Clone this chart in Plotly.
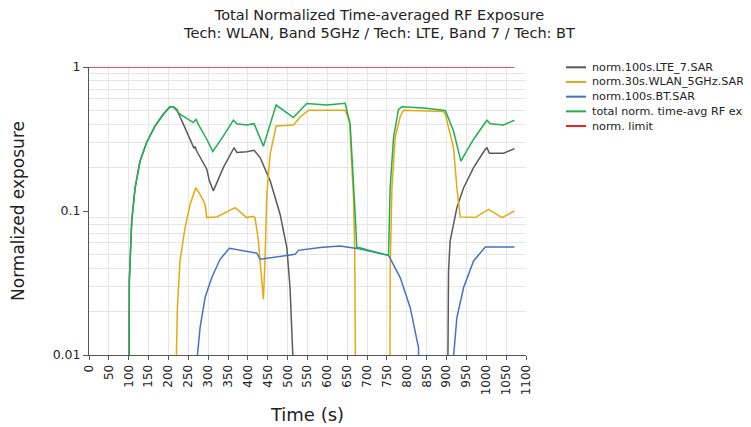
import plotly.graph_objects as go

# values (time in s, normalized exposure)
lte_t = [100, 101.5, 107.5, 116, 128.5, 145, 166, 187, 204, 212, 221, 237.6, 254.4, 264.5, 267, 271,
         296.5, 303, 313, 338, 365, 372, 397, 415.6, 430.7, 456, 481, 498, 506, 513, 514,
         None,
         901, 903.5, 905, 909, 926, 943, 968, 997.5, 1001.7, 1008, 1043.6, 1071]
lte_v = [0.001, 0.0327, 0.085, 0.145, 0.222, 0.299, 0.389, 0.47, 0.53, 0.53, 0.508, 0.40, 0.315, 0.272, 0.28, 0.261,
         0.195, 0.162, 0.138, 0.2, 0.275, 0.255, 0.258, 0.264, 0.235, 0.162, 0.095, 0.0557, 0.0294, 0.01, 0.001,
         None,
         0.001, 0.01, 0.038, 0.0619, 0.1056, 0.145, 0.2, 0.268, 0.275, 0.252, 0.252, 0.271]

wlan_t = [219, 220, 222.5, 229, 241.8, 254.4, 268.7, 279.6, 292.2, 296.5, 321.7, 367.8, 397, 414, 418,
          426.5, 435, 439, 443, 447.6, 456, 471, 514.6, 531.5, 552.5, 644.8, 655.7, 665.8, 669, 672.5,
          None,
          757, 758, 762.5, 770.8, 783.4, 791.7, 892, 897, 917.6, 926, 934.5, 972, 1005.8, 1039.5, 1071]
wlan_v = [0.001, 0.01, 0.0213, 0.045, 0.0767, 0.111, 0.145, 0.1306, 0.111, 0.09, 0.091, 0.1056, 0.09, 0.092, 0.09,
          0.0619, 0.0327, 0.0244, 0.045, 0.1306, 0.248, 0.389, 0.396, 0.45, 0.5, 0.5, 0.424, 0.124, 0.05, 0.001,
          None,
          0.001, 0.038, 0.145, 0.324, 0.455, 0.5, 0.49, 0.47, 0.275, 0.145, 0.091, 0.09, 0.1027, 0.09, 0.1]

bt_t = [272, 273, 279.6, 292.2, 309, 330, 353.4, 380.4, 422.4, 430.7, 447.6, 498, 518.9, 527, 582, 632,
        654, 674, 754, 783.4, 808.6, 829.5, 832,
        None,
        917, 918, 926, 943, 968, 997.5, 1071]
bt_v = [0.001, 0.01, 0.0155, 0.0251, 0.0345, 0.0462, 0.0551, 0.0533, 0.051, 0.0462, 0.047, 0.0492, 0.05, 0.0533, 0.0557, 0.0572,
        0.0562, 0.055, 0.0492, 0.0345, 0.0213, 0.0112, 0.001,
        None,
        0.001, 0.01, 0.0182, 0.0294, 0.045, 0.0562, 0.0562]

total_t = [100, 101.5, 107.5, 116, 128.5, 145, 166, 187, 204, 212, 229, 262.7, 269.5, 275.3, 296.5, 311.6,
           338.4, 363.5, 372, 397, 415.6, 439, 471, 514.6, 548, 598.7, 644.8, 657.4, 670, 674, 754,
           758, 766.6, 779, 787.6, 842, 892.4, 897, 917.6, 936, 968, 1001.7, 1010, 1043.6, 1071]
total_v = [0.001, 0.0327, 0.085, 0.145, 0.222, 0.299, 0.389, 0.47, 0.53, 0.53, 0.47, 0.411, 0.433, 0.40, 0.315, 0.259,
           0.332, 0.427, 0.404, 0.396, 0.404, 0.282, 0.544, 0.446, 0.557, 0.544, 0.56, 0.40, 0.095, 0.0562, 0.0492,
           0.145, 0.324, 0.508, 0.53, 0.52, 0.50, 0.497, 0.359, 0.222, 0.315, 0.427, 0.404, 0.396, 0.427]

limit_t = [0, 1071]
limit_v = [1, 1]

# legend text as far as it is visible in the reference (cut at the right edge)
series = [
    ("norm.100s.LTE_7.SAR", lte_t, lte_v, "#5a5a5a"),
    ("norm.30s.WLAN_5GHz.SAR", wlan_t, wlan_v, "#e8a90e"),
    ("norm.100s.BT.SAR", bt_t, bt_v, "#4472c4"),
    ("total norm. time-avg RF exp", total_t, total_v, "#1fb050"),
    ("norm. limit", limit_t, limit_v, "#ee1c1c"),
]

font = "DejaVu Sans, Verdana, sans-serif"

fig = go.Figure()
for name, t, v, col in series:
    fig.add_trace(go.Scatter(x=t, y=v, name=name, mode="lines", showlegend=False,
                             line=dict(color=col, width=1.5)))

# hand-made legend, tighter rows than plotly's own legend allows
row_y = [0.999, 0.948, 0.897, 0.846, 0.795]
for (name, t, v, col), yy in zip(series, row_y):
    fig.add_shape(type="line", xref="paper", yref="paper", x0=1.0915, x1=1.1373, y0=yy, y1=yy,
                  line=dict(color=col, width=2))
    fig.add_annotation(text=name, xref="paper", yref="paper", x=1.1465, y=yy,
                       xanchor="left", yanchor="middle", showarrow=False,
                       font=dict(size=11.2, family=font, color="#222"))

minor_vals = [m * 10 ** e for e in (-2, -1) for m in range(2, 10)]

# page body has an 8px margin, so the figure is 8px smaller than the window
fig.update_layout(
    width=743, height=419,
    margin=dict(l=81, r=225, t=59, b=72, autoexpand=False),
    paper_bgcolor="white", plot_bgcolor="white",
    font=dict(family=font, color="#222"),
    title=dict(text="Total Normalized Time-averaged RF Exposure<br>Tech: WLAN, Band 5GHz / Tech: LTE, Band 7 / Tech: BT",
               x=0.5, xref="container", xanchor="center", y=0.9725, yref="container", yanchor="middle",
               font=dict(size=14.5, family=font, color="#222")),
    showlegend=False,
)
fig.update_xaxes(range=[0, 1100], dtick=50, tick0=0, tickangle=-90,
                 showgrid=True, gridcolor="#e6e6e6", gridwidth=1,
                 showline=True, linecolor="#555", linewidth=1,
                 ticks="outside", ticklen=4, tickcolor="#555",
                 zeroline=False, tickfont=dict(size=12),
                 title=dict(text="Time (s)", font=dict(size=18), standoff=14))
fig.update_yaxes(type="log", range=[-2, 0], tickvals=[0.01, 0.1, 1], ticktext=["0.01", "0.1", "1"],
                 showgrid=False, showline=True, linecolor="#555", linewidth=1,
                 ticks="outside", ticklen=5, tickcolor="#555", tickfont=dict(size=12.5),
                 minor=dict(tickvals=minor_vals, showgrid=True, gridcolor="#e6e6e6", ticks=""),
                 zeroline=False,
                 title=dict(text="Normalized exposure", font=dict(size=17), standoff=24))

fig.write_html("out.html")
